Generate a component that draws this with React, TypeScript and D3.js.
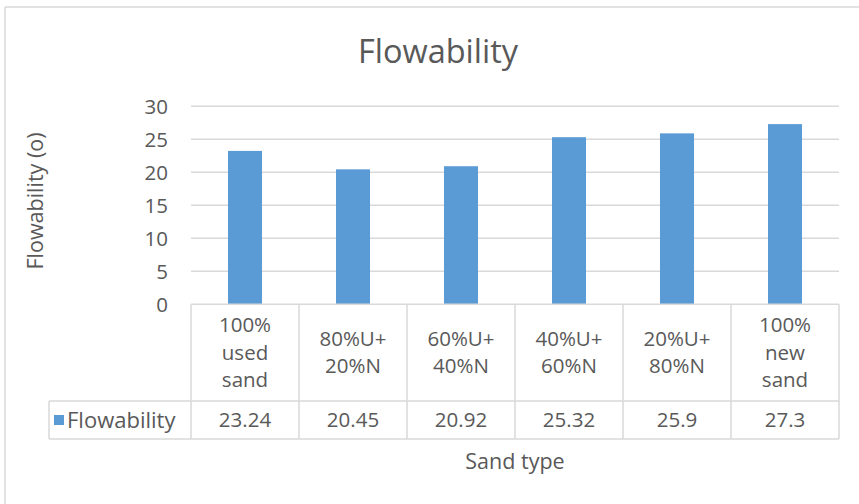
import React from "react";
import * as d3 from "d3";

const categories: string[][] = [
  ["100%", "used", "sand"],
  ["80%U+", "20%N"],
  ["60%U+", "40%N"],
  ["40%U+", "60%N"],
  ["20%U+", "80%N"],
  ["100%", "new", "sand"],
];
const values: number[] = [23.24, 20.45, 20.92, 25.32, 25.9, 27.3];
const valueLabels: string[] = ["23.24", "20.45", "20.92", "25.32", "25.9", "27.3"];
const yTicks: number[] = [0, 5, 10, 15, 20, 25, 30];
const seriesName = "Flowability";
const chartTitle = "Flowability";
const yTitle = "Flowability (o)";
const xTitle = "Sand type";

const W = 859;
const H = 504;
const FONT = "'Open Sans', sans-serif";
const TEXT = "#595959";
const GRID = "#d9d9d9";
const BAR = "#5b9bd5";

export default function App() {
  const plotLeft = 191;
  const plotRight = 839;
  const plotTop = 106.3;
  const plotBottom = 304.3;
  const catRowBottom = 401;
  const valRowBottom = 439;
  const legendLeft = 49;

  const x = d3
    .scaleBand<number>()
    .domain(categories.map((_, i) => i))
    .range([plotLeft, plotRight])
    .paddingInner(0)
    .paddingOuter(0);
  const y = d3.scaleLinear().domain([0, 30]).range([plotBottom, plotTop]);
  const step = x.step();
  const barW = step * 0.315;

  const catMid = (plotBottom + catRowBottom) / 2;
  const valMid = (catRowBottom + valRowBottom) / 2;
  const lineH = 27.5;

  return (
    <svg
      width={W}
      height={H}
      viewBox={`0 0 ${W} ${H}`}
      style={{ position: "absolute", left: 0, top: 0, background: "#fff" }}
    >
      {/* chart frame */}
      <line x1={5} y1={7} x2={W} y2={7} stroke={GRID} strokeWidth={1.5} />
      <line x1={5} y1={7} x2={5} y2={H} stroke={GRID} strokeWidth={1.5} />

      <text
        x={438}
        y={63}
        textAnchor="middle"
        fontFamily={FONT}
        fontSize={32.5}
        fill={TEXT}
      >
        {chartTitle}
      </text>

      {/* gridlines and value axis labels */}
      {yTicks.map((t) => (
        <g key={t}>
          {t > 0 && (
            <line
              x1={plotLeft}
              x2={plotRight}
              y1={y(t)}
              y2={y(t)}
              stroke={GRID}
              strokeWidth={1.5}
            />
          )}
          <text
            x={168}
            y={y(t)}
            dy="0.36em"
            textAnchor="end"
            fontFamily={FONT}
            fontSize={20.5}
            fill={TEXT}
          >
            {t}
          </text>
        </g>
      ))}

      {/* bars */}
      {values.map((v, i) => (
        <rect
          key={i}
          x={(x(i) as number) + step / 2 - barW / 2}
          y={y(v)}
          width={barW}
          height={y(0) - y(v)}
          fill={BAR}
        />
      ))}

      {/* data table */}
      <g stroke={GRID} strokeWidth={1.5} fill="none">
        <line x1={plotLeft} x2={plotRight} y1={plotBottom} y2={plotBottom} />
        <line x1={legendLeft} x2={plotRight} y1={catRowBottom} y2={catRowBottom} />
        <line x1={legendLeft} x2={plotRight} y1={valRowBottom} y2={valRowBottom} />
        <line x1={legendLeft} x2={legendLeft} y1={catRowBottom} y2={valRowBottom} />
        {d3.range(categories.length + 1).map((i) => (
          <line
            key={i}
            x1={plotLeft + i * step}
            x2={plotLeft + i * step}
            y1={plotBottom}
            y2={valRowBottom}
          />
        ))}
      </g>

      {categories.map((lines, i) => {
        const cx = (x(i) as number) + step / 2;
        return (
          <g key={i} fontFamily={FONT} fontSize={20.5} fill={TEXT} textAnchor="middle">
            {lines.map((ln, j) => (
              <text
                key={j}
                x={cx}
                y={catMid + (j - (lines.length - 1) / 2) * lineH + 7}
              >
                {ln}
              </text>
            ))}
            <text x={cx} y={valMid + 7.3}>
              {valueLabels[i]}
            </text>
          </g>
        );
      })}

      {/* legend key inside the table */}
      <rect x={54} y={415} width={10} height={10} fill={BAR} />
      <text x={67} y={valMid + 7.6} fontFamily={FONT} fontSize={22} fill={TEXT}>
        {seriesName}
      </text>

      {/* axis titles */}
      <text
        transform={`translate(43, 201) rotate(-90)`}
        textAnchor="middle"
        fontFamily={FONT}
        fontSize={21.5}
        fill={TEXT}
      >
        {yTitle}
      </text>
      <text
        x={(plotLeft + plotRight) / 2}
        y={469}
        textAnchor="middle"
        fontFamily={FONT}
        fontSize={21.5}
        fill={TEXT}
      >
        {xTitle}
      </text>
    </svg>
  );
}
